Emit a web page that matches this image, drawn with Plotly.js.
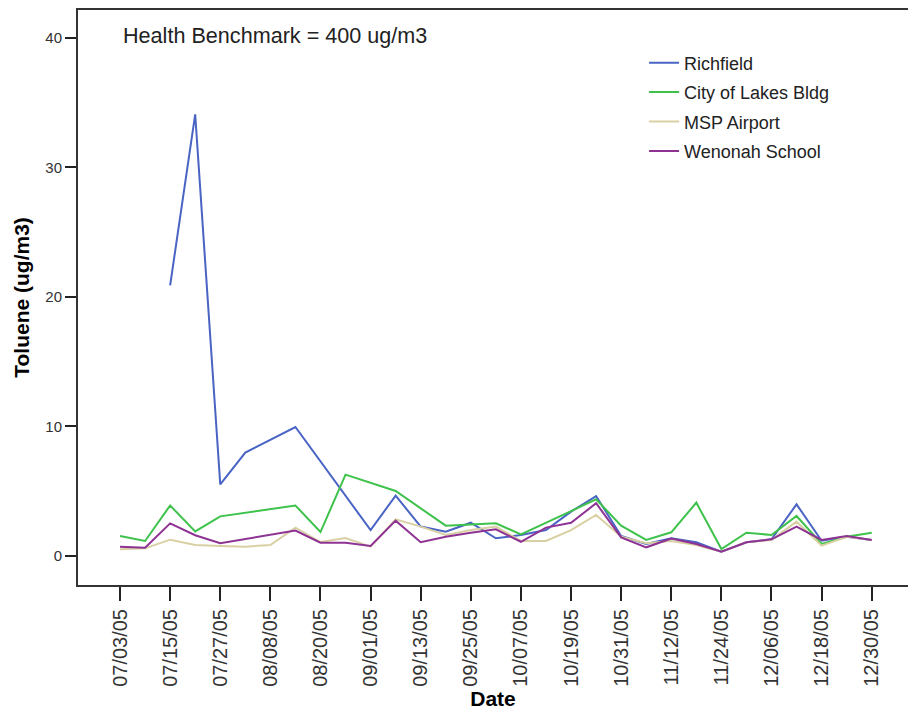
<!DOCTYPE html>
<html>
<head>
<meta charset="utf-8">
<script src="https://cdn.plot.ly/plotly-3.0.1.min.js"></script>
<style>html,body{margin:0;padding:0;background:#fff;}#chart{width:908px;height:711px;}</style>
</head>
<body>
<div id="chart"></div>
<script>
// Sample dates (every 6 days)
const dates = ["2005-07-03","2005-07-09","2005-07-15","2005-07-21","2005-07-27","2005-08-02","2005-08-08","2005-08-14","2005-08-20","2005-08-26","2005-09-01","2005-09-07","2005-09-13","2005-09-19","2005-09-25","2005-10-01","2005-10-07","2005-10-13","2005-10-19","2005-10-25","2005-10-31","2005-11-06","2005-11-12","2005-11-18","2005-11-24","2005-11-30","2005-12-06","2005-12-12","2005-12-18","2005-12-24","2005-12-30"];

const richfield = [null,null,20.9,34.1,5.53,7.98,null,9.96,null,null,2.0,4.66,2.27,1.88,2.57,1.37,1.62,2.0,3.42,4.63,1.54,0.93,1.37,1.06,0.33,1.06,1.29,3.99,1.18,1.49,1.24];
const cityOfLakes = [1.54,1.16,3.9,1.9,3.06,null,null,3.9,1.85,6.28,null,5.02,null,2.34,null,2.52,1.67,null,3.47,4.38,2.34,1.24,1.83,4.12,0.54,1.8,1.62,3.09,0.93,1.49,1.8];
const mspAirport = [0.52,0.59,1.26,0.85,0.77,0.72,0.85,2.19,1.08,1.39,0.72,2.83,2.27,1.62,2.0,2.27,1.16,1.16,2.0,3.17,1.49,0.98,1.16,0.85,0.33,1.06,1.24,2.65,0.8,1.49,1.24];
const wenonah = [0.72,0.64,2.52,1.6,0.98,null,null,1.96,1.03,1.03,0.77,2.73,1.06,1.49,1.8,2.06,1.1,2.19,2.57,4.07,1.44,0.67,1.35,0.93,0.33,1.06,1.29,2.27,1.24,1.54,1.24];

const seriesNames = ["Richfield","City of Lakes Bldg","MSP Airport","Wenonah School"];
const seriesColors = ["#4A64C4","#3EC24C","#D8D0A2","#8E3394"];
const seriesValues = [richfield, cityOfLakes, mspAirport, wenonah];

const xTitle = "Date";
const yTitle = "Toluene (ug/m3)";
const note = "Health Benchmark = 400 ug/m3";

const FONT = "Liberation Sans, Arial, sans-serif";

const traces = seriesValues.map((vals, i) => ({
  type: "scatter",
  mode: "lines",
  x: dates,
  y: vals,
  name: seriesNames[i],
  legendgroup: "g" + i,
  connectgaps: true,
  line: {color: seriesColors[i], width: 2}
}));

const layout = {
  width: 908,
  height: 711,
  margin: {l: 78, r: 0, t: 10, b: 126},
  paper_bgcolor: "#fff",
  plot_bgcolor: "#fff",
  font: {family: FONT, color: "#222"},
  showlegend: true,
  legend: {
    x: 0.682, xanchor: "left",
    y: 0.94, yanchor: "top",
    bgcolor: "rgba(0,0,0,0)",
    font: {family: FONT, size: 18, color: "#222"},
    traceorder: "grouped",
    tracegroupgap: 3
  },
  xaxis: {
    type: "date",
    range: ["2005-06-22 22:30", "2006-01-07 16:30"],
    tick0: "2005-07-03",
    dtick: 12 * 86400000,
    tickformat: "%m/%d/%y",
    tickangle: -90,
    ticks: "outside",
    ticklen: 14,
    tickwidth: 2,
    tickcolor: "#222",
    tickfont: {family: FONT, size: 20, color: "#333"},
    showgrid: false,
    zeroline: false,
    showline: true,
    linecolor: "#333",
    linewidth: 2,
    mirror: true,
    title: {text: xTitle, font: {family: FONT, size: 21, color: "#000", weight: "bold"}, standoff: 2},
    automargin: false
  },
  yaxis: {
    range: [-2.24, 42.16],
    tickvals: [0, 10, 20, 30, 40],
    ticks: "outside",
    ticklen: 11,
    tickwidth: 2,
    tickcolor: "#222",
    tickfont: {family: FONT, size: 15, color: "#333"},
    showgrid: false,
    zeroline: false,
    showline: true,
    linecolor: "#333",
    linewidth: 2,
    title: {text: yTitle, font: {family: FONT, size: 21, color: "#000", weight: "bold"}, standoff: 10},
    automargin: false
  },
  annotations: [{
    xref: "paper", yref: "paper",
    x: 0.052, y: 0.955, xanchor: "left", yanchor: "middle",
    text: note, showarrow: false,
    font: {family: FONT, size: 21.6, color: "#222"}
  }]
};

Plotly.newPlot("chart", traces, layout, {displayModeBar: false, staticPlot: true});
</script>
</body>
</html>
